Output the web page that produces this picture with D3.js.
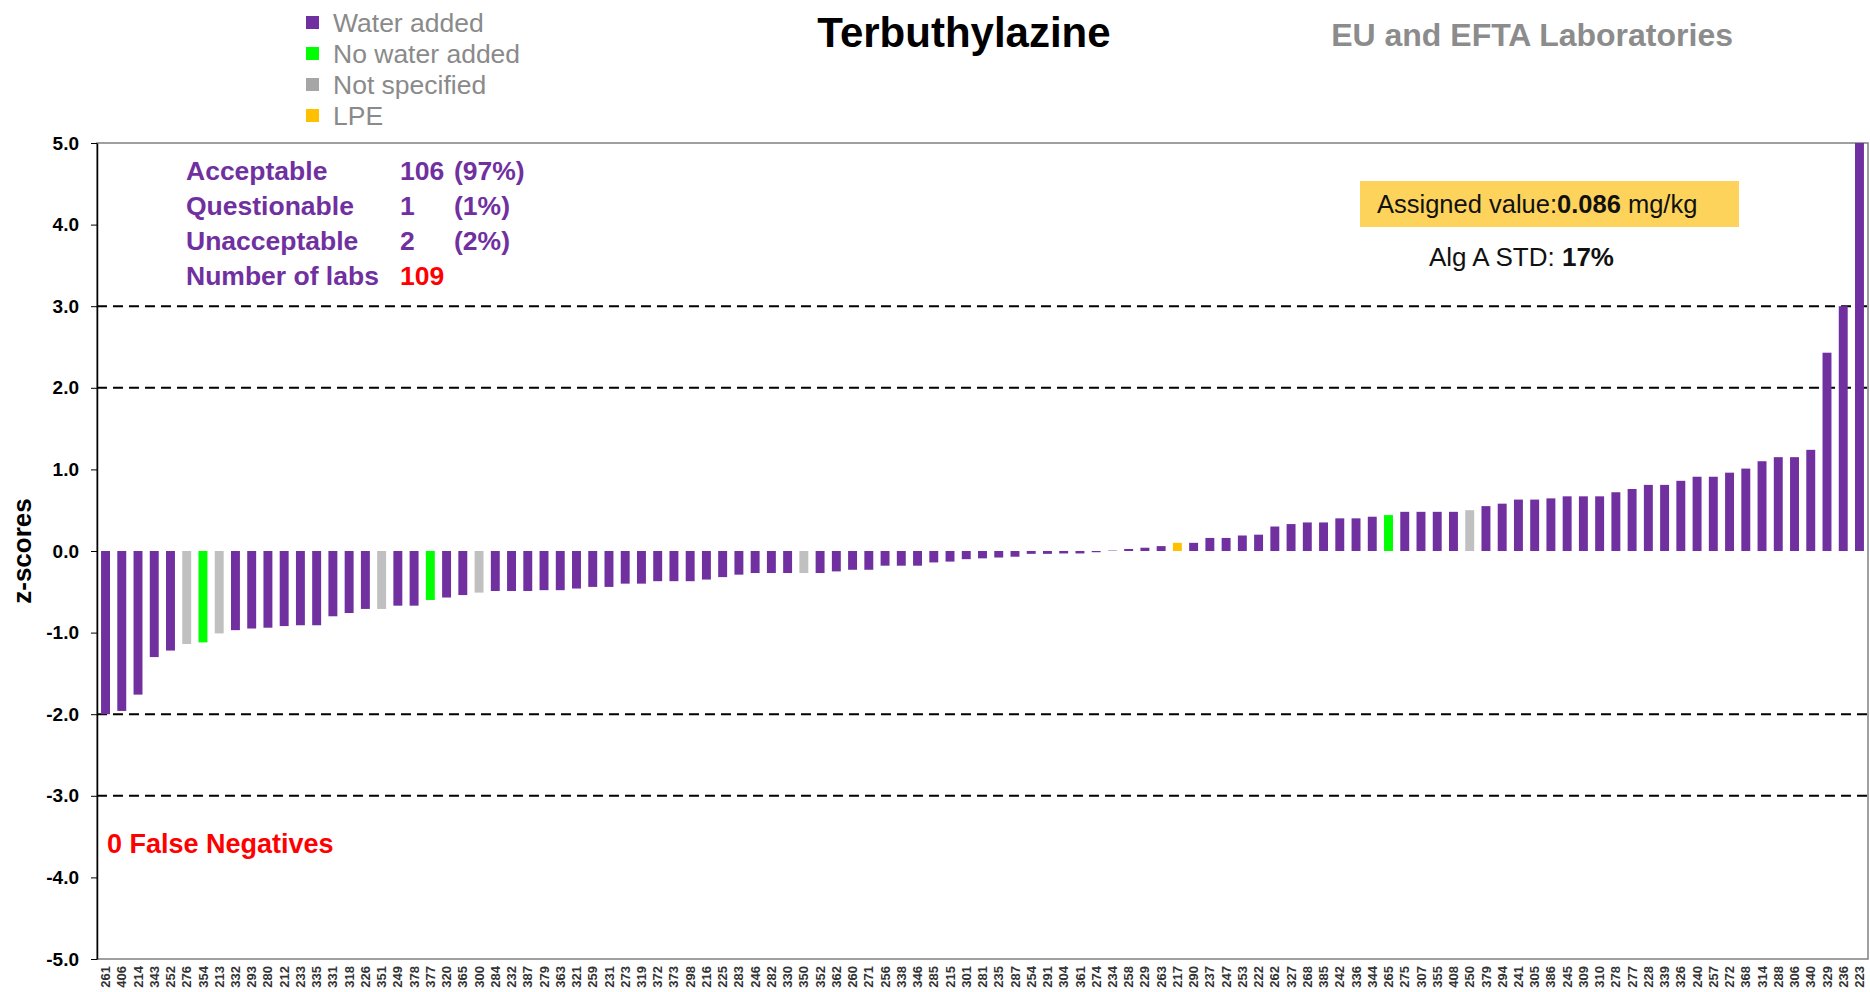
<!DOCTYPE html>
<html>
<head>
<meta charset="utf-8">
<title>Terbuthylazine z-scores</title>
<script src="https://cdn.jsdelivr.net/npm/d3@7"></script>
<style>
    body { margin: 0; background: #fff; }
    svg { display: block; font-family: 'Liberation Sans', Arial, sans-serif; }
</style>
</head>
<body>
<div id="chart"></div>
<script>
// lab codes in plotted order
const labs = ['261', '406', '214', '343', '252', '276', '354', '213', '332', '293', '280', '212', '233', '335', '331', '318', '226', '351',
    '249', '378', '377', '320', '365', '300', '284', '232', '387', '279', '363', '321', '259', '231', '273', '319', '372', '373',
    '298', '216', '225', '283', '246', '282', '330', '350', '352', '362', '260', '271', '256', '338', '346', '285', '215', '301',
    '281', '235', '287', '254', '291', '304', '361', '274', '234', '258', '229', '263', '217', '290', '237', '247', '253', '222',
    '262', '327', '268', '385', '242', '336', '344', '265', '275', '307', '355', '408', '250', '379', '294', '241', '305', '386',
    '245', '309', '310', '278', '277', '228', '339', '326', '240', '257', '272', '368', '314', '288', '306', '340', '329', '236', '223'];

// z-scores, same order as labs
const zScores = [-2.0, -1.96, -1.76, -1.30, -1.22, -1.14, -1.12, -1.01, -0.97, -0.95, -0.94, -0.92, -0.91, -0.91, -0.80, -0.76, -0.71, -0.71,
    -0.67, -0.67, -0.60, -0.57, -0.54, -0.51, -0.49, -0.49, -0.49, -0.48, -0.48, -0.46, -0.44, -0.44, -0.40, -0.40, -0.37, -0.37,
    -0.37, -0.35, -0.32, -0.29, -0.27, -0.27, -0.27, -0.27, -0.27, -0.25, -0.23, -0.23, -0.18, -0.18, -0.18, -0.14, -0.13, -0.10,
    -0.09, -0.08, -0.07, -0.035, -0.035, -0.03, -0.03, -0.015, 0.005, 0.025, 0.04, 0.06, 0.10, 0.10, 0.16, 0.16, 0.19, 0.20,
    0.30, 0.33, 0.35, 0.35, 0.40, 0.40, 0.42, 0.44, 0.48, 0.48, 0.48, 0.48, 0.50, 0.55, 0.58, 0.63, 0.63, 0.645,
    0.67, 0.67, 0.67, 0.72, 0.76, 0.81, 0.81, 0.86, 0.91, 0.91, 0.96, 1.01, 1.10, 1.15, 1.15, 1.24, 2.43, 3.0, 5.0];

// labs that are not "water added"
const noWaterLabs = ['354', '377', '265'];
const notSpecifiedLabs = ['276', '213', '351', '300', '350', '250'];
const lpeLabs = ['217'];

const yTicks = [5, 4, 3, 2, 1, 0, -1, -2, -3, -4, -5];
const limitLines = [3, 2, -2, -3];

const legendItems = ['Water added', 'No water added', 'Not specified', 'LPE'];
const legendColors = ['#7030a0', '#00ff00', '#a6a6a6', '#ffc000'];

const statLabels = ['Acceptable', 'Questionable', 'Unacceptable', 'Number of labs'];
const statCounts = ['106', '1', '2', '109'];
const statPercents = ['(97%)', '(1%)', '(2%)', ''];

document.addEventListener('DOMContentLoaded', function () {
    const W = 1870, H = 992;
    const plot = { left: 97, right: 1868, top: 143, bottom: 959 };

    const svg = d3.select('#chart').append('svg')
        .attr('width', W)
        .attr('height', H);

    const x = d3.scaleBand().domain(labs).range([plot.left, plot.right])
        .paddingInner(0.45).paddingOuter(0.25);
    const y = d3.scaleLinear().domain([-5, 5]).range([plot.bottom, plot.top]);

    function barColor(lab) {
        if (noWaterLabs.includes(lab)) return '#00ff00';
        if (notSpecifiedLabs.includes(lab)) return '#c0c0c0';
        if (lpeLabs.includes(lab)) return '#ffc000';
        return '#7030a0';
    }

    // plot frame
    svg.append('rect')
        .attr('x', plot.left)
        .attr('y', plot.top)
        .attr('width', plot.right - plot.left)
        .attr('height', plot.bottom - plot.top)
        .style('fill', 'none')
        .style('stroke', '#808080')
        .style('stroke-width', 1.5);

    // +-2 and +-3 limits
    svg.selectAll('.limit')
        .data(limitLines)
        .enter().append('line')
        .attr('class', 'limit')
        .attr('x1', plot.left)
        .attr('x2', plot.right)
        .attr('y1', d => y(d))
        .attr('y2', d => y(d))
        .style('stroke', '#000')
        .style('stroke-width', 2)
        .style('stroke-dasharray', '10,6');

    const data = labs.map((lab, i) => ({ lab: lab, z: zScores[i] }));

    svg.selectAll('.bar')
        .data(data)
        .enter().append('rect')
        .attr('class', 'bar')
        .attr('x', d => x(d.lab))
        .attr('width', x.bandwidth())
        .attr('y', d => y(Math.max(0, d.z)))
        .attr('height', d => Math.abs(y(d.z) - y(0)))
        .style('fill', d => barColor(d.lab));

    // y axis (plain hyphen minus like the original)
    const yAxis = d3.axisLeft(y).tickValues(yTicks).tickFormat(d => d.toFixed(1))
        .tickSize(6).tickSizeOuter(0).tickPadding(12);
    const yg = svg.append('g')
        .attr('transform', `translate(${plot.left},0)`)
        .call(yAxis);
    yg.select('.domain').style('stroke', '#000').style('stroke-width', 1.5);
    yg.selectAll('.tick line').style('stroke', '#000');
    yg.selectAll('.tick text')
        .style('font-size', '19px')
        .style('font-weight', 'bold')
        .style('fill', '#000');

    // x axis labels (lab codes)
    const xAxis = d3.axisBottom(x).tickSize(0).tickPadding(0);
    const xg = svg.append('g')
        .attr('transform', `translate(0,${plot.bottom})`)
        .call(xAxis);
    xg.select('.domain').remove();
    xg.selectAll('.tick text')
        .attr('transform', 'rotate(-90)')
        .attr('x', -7)
        .attr('y', 0)
        .attr('dy', '.35em')
        .style('text-anchor', 'end')
        .style('font-size', '13px')
        .style('font-weight', 'bold')
        .style('fill', '#333');

    // y title
    svg.append('text')
        .attr('transform', `translate(31,${y(0)}) rotate(-90)`)
        .style('text-anchor', 'middle')
        .style('font-size', '26px')
        .style('font-weight', 'bold')
        .text('z-scores');

    // titles
    svg.append('text')
        .attr('x', 964)
        .attr('y', 47)
        .style('text-anchor', 'middle')
        .style('font-size', '42px')
        .style('font-weight', 'bold')
        .text('Terbuthylazine');

    svg.append('text')
        .attr('x', 1733)
        .attr('y', 46)
        .style('text-anchor', 'end')
        .style('font-size', '32px')
        .style('font-weight', 'bold')
        .style('fill', '#8c8c8c')
        .text('EU and EFTA Laboratories');

    // legend
    const legend = svg.selectAll('.legend')
        .data(legendItems)
        .enter().append('g')
        .attr('class', 'legend')
        .attr('transform', (d, i) => `translate(306,${23 + i * 31})`);

    legend.append('rect')
        .attr('x', 0)
        .attr('y', -7)
        .attr('width', 13)
        .attr('height', 13)
        .style('fill', (d, i) => legendColors[i]);

    legend.append('text')
        .attr('x', 27)
        .attr('y', 0)
        .attr('dy', '.35em')
        .style('font-size', '26.5px')
        .style('fill', '#8a8a8a')
        .text(d => d);

    // stats block
    const stats = svg.selectAll('.stat')
        .data(statLabels)
        .enter().append('g')
        .attr('class', 'stat')
        .attr('transform', (d, i) => `translate(186,${171 + i * 35})`)
        .style('font-size', '26.5px')
        .style('font-weight', 'bold')
        .style('fill', '#7030a0');

    stats.append('text').attr('dy', '.35em').text(d => d);
    stats.append('text').attr('x', 214).attr('dy', '.35em')
        .style('fill', (d, i) => i === 3 ? '#ff0000' : '#7030a0')
        .text((d, i) => statCounts[i]);
    stats.append('text').attr('x', 268).attr('dy', '.35em')
        .text((d, i) => statPercents[i]);

    svg.append('text')
        .attr('x', 107)
        .attr('y', 844)
        .attr('dy', '.35em')
        .style('font-size', '27px')
        .style('font-weight', 'bold')
        .style('fill', '#ff0000')
        .text('0 False Negatives');

    // assigned value box
    svg.append('rect')
        .attr('x', 1360)
        .attr('y', 181)
        .attr('width', 379)
        .attr('height', 46)
        .style('fill', '#fdd35b');

    const assigned = svg.append('text')
        .attr('x', 1377)
        .attr('y', 204)
        .attr('dy', '.35em')
        .style('font-size', '25.5px')
        .style('fill', '#111');
    assigned.append('tspan').text('Assigned value:');
    assigned.append('tspan').style('font-weight', 'bold').text('0.086');
    assigned.append('tspan').text(' mg/kg');

    const std = svg.append('text')
        .attr('x', 1429)
        .attr('y', 257)
        .attr('dy', '.35em')
        .style('font-size', '26px')
        .style('fill', '#111');
    std.append('tspan').text('Alg A STD: ');
    std.append('tspan').style('font-weight', 'bold').text('17%');
});
</script>
</body>
</html>
